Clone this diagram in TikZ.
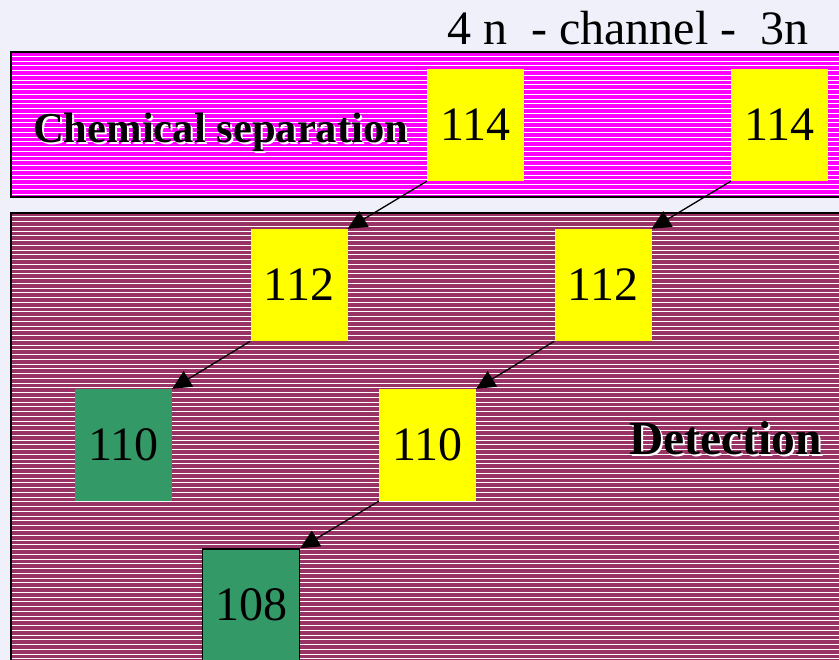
\documentclass[tikz,border=0pt]{standalone}
\usepackage{fontspec}
\setmainfont{Liberation Serif}
\usetikzlibrary{arrows.meta}
\definecolor{fon}{RGB}{240,240,250}
\definecolor{lila}{RGB}{255,0,255}
\definecolor{bordo}{RGB}{153,51,102}
\definecolor{zelen}{RGB}{51,153,102}
\definecolor{zholt}{RGB}{255,255,0}
% текст с белой тенью
\newcommand{\steni}[1]{\makebox[0pt][l]{\kern2pt\raisebox{-2pt}{\color{white}#1}}#1}

\begin{document}
\begin{tikzpicture}[x=1pt, y=-1pt,
		box/.style={minimum width=97pt, minimum height=112pt, inner sep=0pt, font=\fontsize{48}{52}\selectfont},
		ybox/.style={box, fill=zholt},
		gbox/.style={box, fill=zelen},
		pfeil/.style={-{Triangle[length=19pt,width=18pt]}, line width=1.3pt},
		polosa/.style={white, line width=1pt},
		nadpis/.style={anchor=base west, inner sep=0pt, font=\bfseries\fontsize{42.6}{46}\selectfont}]
				\useasboundingbox (0,0) rectangle (839,660);
				\clip (0,0) rectangle (839,660);
				\fill[fon] (0,0) rectangle (839,660);
				
				% Верхняя полоса
				\fill[lila] (10,52) rectangle (850,197);
				\foreach \y in {56.5,61.25,...,196} \draw[polosa] (11,\y) -- (850,\y);
				\draw[line width=2pt] (850,52) -- (11,52) -- (11,197) -- (850,197);
				
				% Нижняя область
				\fill[bordo] (10,213) rectangle (850,670);
				\foreach \y in {217,221.75,...,665} \draw[polosa] (11,\y) -- (850,\y);
				\draw[line width=2pt] (850,213) -- (11,213) -- (11,670);
				
				% Заголовок
				\node[anchor=base west, inner sep=0pt, font=\fontsize{48}{52}\selectfont] (kanal) at (447,45) {4 n\ \ - channel -\ \ 3n};
				
				% Подписи областей
				\node[nadpis] (sep) at (33,143) {\steni{Chemical separation}};
				\node[nadpis, font=\bfseries\fontsize{47.5}{50}\selectfont] (det) at (629,455) {\steni{Detection}};
				
				% Блоки
				\node[ybox] (a1) at (475.5,125) {114};
				\node[ybox] (a2) at (779.5,125) {114};
				\node[ybox] (b1) at (299,285) {112};
				\node[ybox] (b2) at (603,285) {112};
				\node[gbox] (c1) at (123.5,445) {110};
				\node[ybox] (c2) at (427.5,445) {110};
				\node[gbox, draw, line width=1.5pt] (d1) at (251,605) {108};
				
				% Стрелки
				\draw[pfeil] (a1.south west) -- (b1.north east);
				\draw[pfeil] (a2.south west) -- (b2.north east);
				\draw[pfeil] (b1.south west) -- (c1.north east);
				\draw[pfeil] (b2.south west) -- (c2.north east);
				\draw[pfeil] (c2.south west) -- (d1.north east);
			\end{tikzpicture}
\end{document}
